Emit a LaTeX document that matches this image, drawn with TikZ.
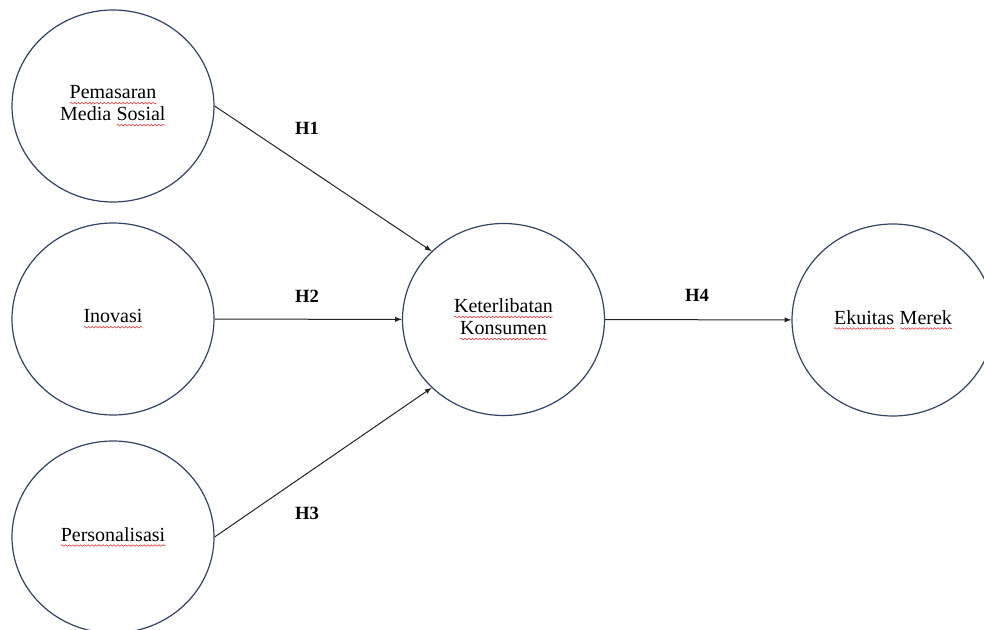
\documentclass[tikz,border=0pt]{standalone}
\usepackage{fontspec}
\setmainfont{Liberation Serif}
\usetikzlibrary{shapes.geometric,decorations.pathmorphing}
\definecolor{ringblue}{RGB}{50,66,102}
\definecolor{squigred}{RGB}{232,72,72}
\definecolor{arrowgrey}{RGB}{35,35,35}
% red spell-check wave under a word
\newcommand{\sq}[1]{\tikz[baseline=(w.base)]{\node[shape=rectangle,draw=none,fill=none,inner sep=0pt,outer sep=0pt,minimum size=0pt,anchor=base] (w) {#1};
  \draw[squigred,line width=0.5pt,decorate,decoration={snake,amplitude=0.6pt,segment length=2.8pt}] ([yshift=-3.2pt]w.base west) -- ([yshift=-3.2pt]w.base east);}}
\tikzset{
  >=latex,
  ring/.style={ellipse,draw=ringblue,line width=0.9pt,minimum width=151.5pt,minimum height=144pt,
    align=center,font=\fontsize{15}{16.5}\selectfont},
  hlabel/.style={font=\bfseries\fontsize{14}{16}\selectfont},
}
\begin{document}
\begin{tikzpicture}[x=0.75pt,y=-0.75pt]
    \useasboundingbox (0,0) rectangle (984,630);
    \node[ring] (pms) at (113,106) {\sq{Pemasaran}\\Media \sq{Sosial}};
    \node[ring] (inv) at (113,319) {\sq{Inovasi}};
    \node[ring] (prs) at (113,537) {\sq{Personalisasi}};
    \node[ring] (ket) at (503.5,319.5) {\sq{Keterlibatan}\\\sq{Konsumen}};
    \node[ring] (ekm) at (893,320) {\sq{Ekuitas} \sq{Merek}};
    \begin{scope}[->,draw=arrowgrey,line width=0.75pt]
      \draw (pms.east) -- (ket.north west);
      \draw (inv) -- (ket);
      \draw (prs.east) -- (ket.south west);
      \draw (ket) -- (ekm);
    \end{scope}
    \node[hlabel] (h1) at (307,128) {H1};
    \node[hlabel] (h2) at (307,296) {H2};
    \node[hlabel] (h3) at (307,513) {H3};
    \node[hlabel] (h4) at (697,295) {H4};
  \end{tikzpicture}
\end{document}
